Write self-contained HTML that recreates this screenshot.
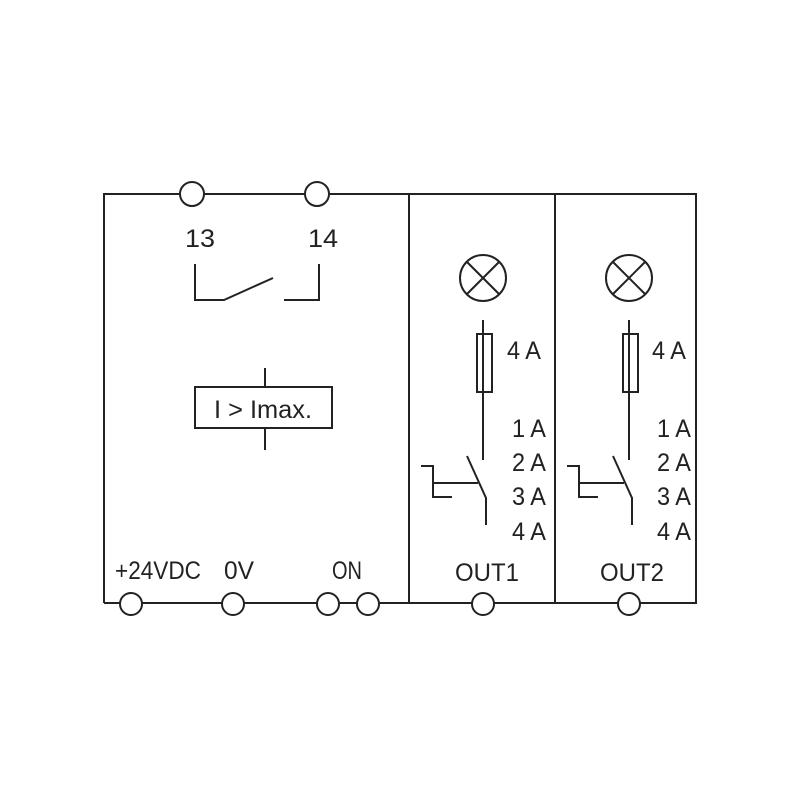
<!DOCTYPE html>
<html><head><style>html,body{margin:0;padding:0;background:#fff}</style></head><body>
<svg width="800" height="800" viewBox="0 0 800 800" xmlns="http://www.w3.org/2000/svg" font-family="Liberation Sans, sans-serif" font-size="25" fill="#222">
<g stroke="#222" stroke-width="2" fill="none">
<polyline points="104,603 104,194 696,194 696,603 104,603"/>
<line x1="409" y1="194" x2="409" y2="603"/>
<line x1="555" y1="194" x2="555" y2="603"/>
<polyline points="195,264 195,300 224,300 273,278"/>
<polyline points="284,300 319,300 319,264"/>
<line x1="265" y1="368" x2="265" y2="450"/>
<rect x="195" y="387" width="137" height="41" fill="#fff"/>
<g id="o1">
<circle cx="483" cy="278" r="23"/>
<line x1="467" y1="262" x2="499" y2="294"/><line x1="499" y1="262" x2="467" y2="294"/>
<line x1="483" y1="320" x2="483" y2="460"/>
<rect x="477" y="334" width="15" height="58" fill="#fff"/>
<line x1="483" y1="334" x2="483" y2="392"/>
<polyline points="467,456 486,498 486,525"/>
<polyline points="421,466 433,466 433,497 452,497"/>
<line x1="433" y1="483" x2="478" y2="483"/>
</g>
<use href="#o1" x="146"/>
</g>
<g stroke="#222" stroke-width="2" fill="#fff">
<circle cx="192" cy="194" r="12"/><circle cx="317" cy="194" r="12"/>
<circle cx="131" cy="604" r="11"/><circle cx="233" cy="604" r="11"/>
<circle cx="328" cy="604" r="11"/><circle cx="368" cy="604" r="11"/>
<circle cx="483" cy="604" r="11"/><circle cx="629" cy="604" r="11"/>
</g>
<text x="185" y="247" textLength="30" lengthAdjust="spacingAndGlyphs">13</text>
<text x="308" y="247" textLength="30" lengthAdjust="spacingAndGlyphs">14</text>
<text x="214" y="418" textLength="98" lengthAdjust="spacingAndGlyphs">I &gt; Imax.</text>
<text x="115" y="579" textLength="86" lengthAdjust="spacingAndGlyphs">+24VDC</text>
<text x="224" y="579" textLength="30" lengthAdjust="spacingAndGlyphs">0V</text>
<text x="332" y="579" textLength="30" lengthAdjust="spacingAndGlyphs">ON</text>
<g id="t1">
<text x="507" y="359" textLength="34" lengthAdjust="spacingAndGlyphs">4 A</text>
<text x="512" y="437" textLength="34" lengthAdjust="spacingAndGlyphs">1 A</text>
<text x="512" y="471" textLength="34" lengthAdjust="spacingAndGlyphs">2 A</text>
<text x="512" y="505" textLength="34" lengthAdjust="spacingAndGlyphs">3 A</text>
<text x="512" y="540" textLength="34" lengthAdjust="spacingAndGlyphs">4 A</text>
</g>
<use href="#t1" x="145"/>
<text x="455" y="581" textLength="64" lengthAdjust="spacingAndGlyphs">OUT1</text>
<text x="600" y="581" textLength="64" lengthAdjust="spacingAndGlyphs">OUT2</text>
</svg>
</body></html>
